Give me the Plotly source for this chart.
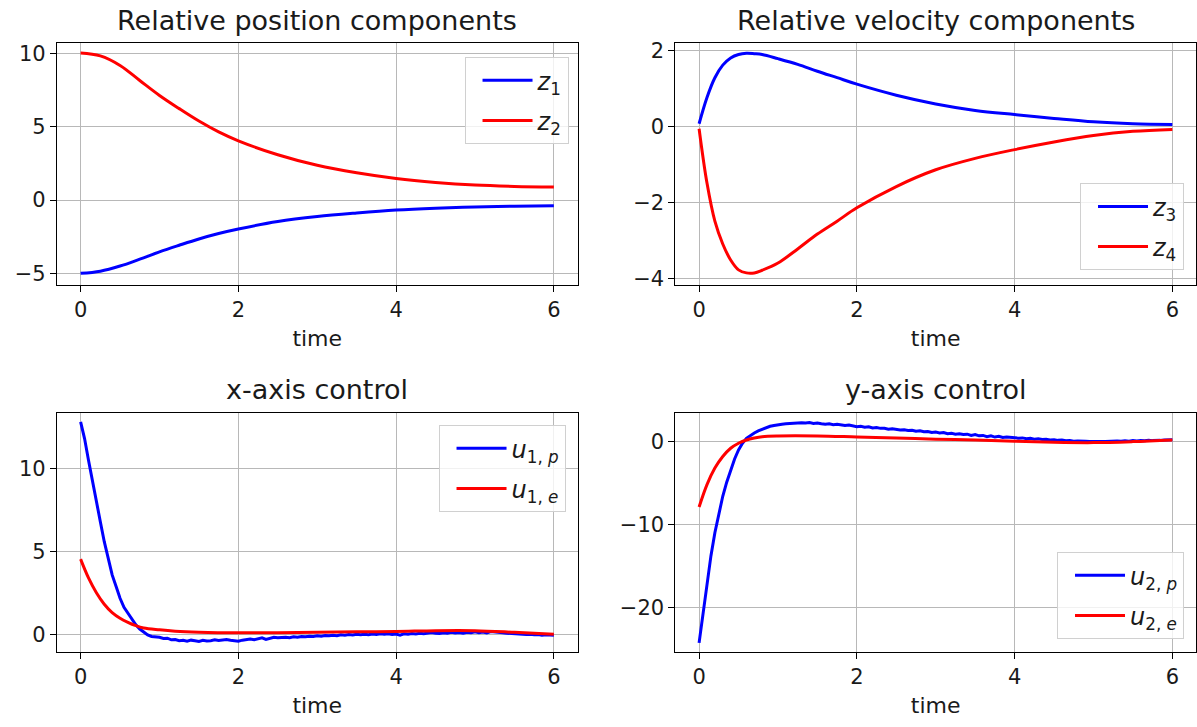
import plotly.graph_objects as go

# ---- relative position components ----
t_pos = [0, 0.25, 0.5, 0.75, 1.0, 1.25, 1.5, 1.75, 2.0, 2.5, 3.0, 3.5, 4.0, 4.5, 5.0, 5.5, 6.0]
z1 = [-5.0, -4.85, -4.5, -4.03, -3.53, -3.08, -2.65, -2.28, -1.97, -1.46, -1.12, -0.88, -0.68, -0.55, -0.46, -0.41, -0.39]
z2 = [10.05, 9.85, 9.2, 8.17, 7.15, 6.25, 5.4, 4.66, 4.05, 3.1, 2.38, 1.87, 1.48, 1.21, 1.03, 0.94, 0.9]

# ---- relative velocity components ----
t_vel = [0, 0.1, 0.2, 0.3, 0.4, 0.5, 0.6, 0.7, 0.8, 1.0, 1.25, 1.5, 1.75, 2.0, 2.5, 3.0, 3.5, 4.0, 4.5, 5.0, 5.5, 6.0]
z3 = [0.08, 0.77, 1.29, 1.62, 1.81, 1.9, 1.93, 1.92, 1.9, 1.79, 1.64, 1.46, 1.29, 1.12, 0.83, 0.6, 0.43, 0.32, 0.22, 0.13, 0.08, 0.06]
z4 = [-0.05, -1.48, -2.48, -3.08, -3.5, -3.76, -3.84, -3.84, -3.77, -3.58, -3.21, -2.82, -2.48, -2.13, -1.57, -1.13, -0.83, -0.6, -0.4, -0.23, -0.12, -0.07]

# ---- control inputs (sampled every 0.05 s) ----
t_ctrl = [round(0.05 * k, 2) for k in range(121)]
u1p = [12.8, 11.8, 10.5, 9.2, 7.9, 6.8, 5.6, 4.6, 3.6, 2.9,
       2.2, 1.65, 1.3, 0.95, 0.6, 0.35, 0.15, 0.0, -0.1, -0.12,
       -0.15, -0.22, -0.2, -0.3, -0.28, -0.35, -0.33, -0.38, -0.32, -0.36,
       -0.4, -0.33, -0.37, -0.35, -0.3, -0.34, -0.32, -0.28, -0.33, -0.35,
       -0.38, -0.32, -0.3, -0.25, -0.3, -0.22, -0.18, -0.28, -0.2, -0.15,
       -0.18, -0.16, -0.14, -0.17, -0.12, -0.14, -0.1, -0.12, -0.08, -0.1,
       -0.06, -0.08, -0.04, -0.06, -0.02, -0.05, 0.0, -0.03, 0.02, -0.01,
       0.03, 0.0, 0.04, 0.01, 0.05, 0.02, 0.06, 0.03, 0.07, 0.02,
       0.05, -0.02, 0.06, 0.03, 0.08, 0.05, 0.1, 0.06, 0.12, 0.14,
       0.1, 0.08, 0.13, 0.1, 0.15, 0.11, 0.14, 0.1, 0.16, 0.12,
       0.18, 0.13, 0.17, 0.12, 0.2, 0.16, 0.14, 0.12, 0.1, 0.08,
       0.1, 0.06, 0.05, 0.02, 0.04, 0.0, 0.02, -0.02, 0.0, -0.03,
       -0.02]
u2p = [-24.3, -20.9, -17.0, -13.8, -11.0, -8.6, -6.6, -4.9, -3.4, -2.1,
       -1.0, -0.2, 0.4, 0.75, 1.05, 1.3, 1.5, 1.7, 1.85, 1.95,
       2.05, 2.1, 2.15, 2.2, 2.25, 2.22, 2.28, 2.25, 2.3, 2.2,
       2.25, 2.15, 2.1, 2.15, 2.05, 2.1, 2.0, 1.95, 2.0, 1.9,
       1.8, 1.85, 1.75, 1.8, 1.65, 1.7, 1.6, 1.62, 1.5, 1.55,
       1.45, 1.4, 1.42, 1.35, 1.38, 1.25, 1.3, 1.2, 1.22, 1.1,
       1.15, 1.05, 1.1, 0.95, 1.0, 0.9, 0.95, 0.85, 0.9, 0.75,
       0.85, 0.7, 0.75, 0.6, 0.7, 0.55, 0.65, 0.5, 0.55, 0.48,
       0.5, 0.42, 0.45, 0.35, 0.4, 0.3, 0.35, 0.25, 0.28, 0.2,
       0.22, 0.15, 0.18, 0.1, 0.12, 0.05, 0.08, 0.02, 0.05, 0.0,
       0.03, -0.02, 0.02, 0.0, 0.05, 0.02, 0.07, 0.04, 0.1, 0.06,
       0.12, 0.08, 0.14, 0.1, 0.16, 0.12, 0.18, 0.15, 0.2, 0.17,
       0.22]

t_u1e = [0, 0.1, 0.2, 0.3, 0.4, 0.5, 0.6, 0.7, 0.8, 1.0, 1.2, 1.5, 2.0, 2.5, 3.0, 3.5, 4.0, 4.5, 5.0, 5.5, 6.0]
u1e = [4.55, 3.42, 2.53, 1.84, 1.34, 1.0, 0.75, 0.55, 0.41, 0.3, 0.22, 0.16, 0.12, 0.13, 0.15, 0.18, 0.2, 0.25, 0.25, 0.15, 0.03]

t_u2e = [0, 0.1, 0.2, 0.3, 0.4, 0.5, 0.6, 0.7, 0.8, 1.0, 1.5, 2.0, 2.5, 3.0, 3.5, 4.0, 4.5, 5.0, 5.5, 6.0]
u2e = [-7.9, -5.2, -3.2, -1.8, -0.8, -0.2, 0.2, 0.44, 0.6, 0.68, 0.68, 0.56, 0.44, 0.3, 0.2, 0.04, -0.08, -0.12, 0.0, 0.2]

x_ticks = [0, 2, 4, 6]

BLUE = "#0000ff"
RED = "#ff0000"
FONT = "DejaVu Sans"
TXT = "#1a1a1a"

fig = go.Figure()


def add_line(x, y, name, color, xa, ya, legend, shape="spline"):
    fig.add_trace(go.Scatter(
        x=x, y=y, name=name, mode="lines",
        line=dict(color=color, width=3, shape=shape),
        xaxis=xa, yaxis=ya, legend=legend, legendgroup=name,
    ))


add_line(t_pos, z1, "<i>z</i><sub>1</sub>", BLUE, "x", "y", "legend")
add_line(t_pos, z2, "<i>z</i><sub>2</sub>", RED, "x", "y", "legend")
add_line(t_vel, z3, "<i>z</i><sub>3</sub>", BLUE, "x2", "y2", "legend2")
add_line(t_vel, z4, "<i>z</i><sub>4</sub>", RED, "x2", "y2", "legend2")
add_line(t_ctrl, u1p, "<i>u</i><sub>1, <i>p</i></sub>", BLUE, "x3", "y3", "legend3", "linear")
add_line(t_u1e, u1e, "<i>u</i><sub>1, <i>e</i></sub>", RED, "x3", "y3", "legend3")
add_line(t_ctrl, u2p, "<i>u</i><sub>2, <i>p</i></sub>", BLUE, "x4", "y4", "legend4", "linear")
add_line(t_u2e, u2e, "<i>u</i><sub>2, <i>e</i></sub>", RED, "x4", "y4", "legend4")

W, H = 1197, 727
left_dom = [57 / W, 578 / W]
right_dom = [676 / W, 1.0]
top_dom = [1 - 285 / H, 1 - 40 / H]
bot_dom = [1 - 657 / H, 1 - 415 / H]

axis_common = dict(
    showline=True, mirror=True, linecolor="#000", linewidth=1.2,
    ticks="outside", ticklen=6, tickcolor="#000", tickwidth=1.2,
    showgrid=True, gridcolor="#b8b8b8", gridwidth=1,
    zeroline=False, tickfont=dict(family=FONT, size=21, color=TXT),
)


def xaxis(domain, anchor):
    return dict(axis_common, domain=domain, anchor=anchor, range=[-0.3, 6.3],
                tickvals=x_ticks, ticktext=[str(v) for v in x_ticks],
                title=dict(text="time", font=dict(family=FONT, size=22, color=TXT), standoff=9))


def yaxis(domain, anchor, rng, vals):
    return dict(axis_common, domain=domain, anchor=anchor, range=rng,
                tickvals=vals, ticktext=[str(v).replace("-", "\u2212") for v in vals])


legend_common = dict(
    bgcolor="rgba(255,255,255,0.8)", bordercolor="#d0d0d0", borderwidth=1,
    font=dict(family=FONT, size=24, color=TXT), xanchor="right",
    itemwidth=50, tracegroupgap=6, indentation=12,
)

fig.update_layout(
    width=W, height=H,
    margin=dict(l=0, r=0, t=0, b=0),
    paper_bgcolor="white", plot_bgcolor="white",
    xaxis=xaxis(left_dom, "y"),
    yaxis=yaxis(top_dom, "x", [-5.8, 10.7], [-5, 0, 5, 10]),
    xaxis2=xaxis(right_dom, "y2"),
    yaxis2=yaxis(top_dom, "x2", [-4.16, 2.19], [-4, -2, 0, 2]),
    xaxis3=xaxis(left_dom, "y3"),
    yaxis3=yaxis(bot_dom, "x3", [-1.03, 13.32], [0, 5, 10]),
    xaxis4=xaxis(right_dom, "y4"),
    yaxis4=yaxis(bot_dom, "x4", [-25.4, 3.42], [-20, -10, 0]),
    legend=dict(legend_common, x=569 / W, y=1 - 54 / H, yanchor="top"),
    legend2=dict(legend_common, x=1185 / W, y=1 - 270 / H, yanchor="bottom"),
    legend3=dict(legend_common, x=566 / W, y=1 - 427 / H, yanchor="top"),
    legend4=dict(legend_common, x=1185 / W, y=1 - 644 / H, yanchor="bottom"),
    showlegend=True,
)

titles = [
    ("Relative position components", (left_dom[0] + left_dom[1]) / 2, 1 - 17 / H),
    ("Relative velocity components", (right_dom[0] + 1197 / W) / 2, 1 - 17 / H),
    ("x-axis control", (left_dom[0] + left_dom[1]) / 2, 1 - 391 / H),
    ("y-axis control", (right_dom[0] + 1197 / W) / 2, 1 - 391 / H),
]
for text, x, y in titles:
    fig.add_annotation(text=text, x=x, y=y, xref="paper", yref="paper",
                       xanchor="center", yanchor="middle", showarrow=False,
                       font=dict(family=FONT, size=27, color=TXT))

fig.write_html("out.html")
